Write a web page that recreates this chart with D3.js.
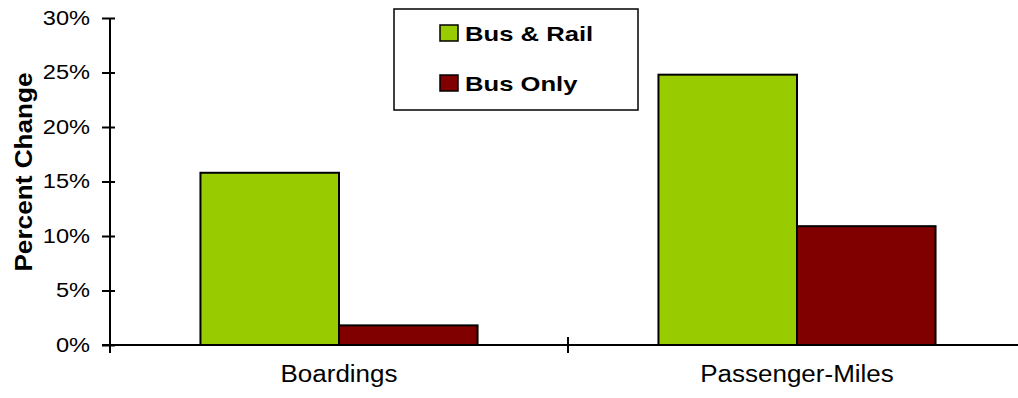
<!DOCTYPE html>
<html>
<head>
<meta charset="utf-8">
<script src="https://cdn.jsdelivr.net/npm/d3@7"></script>
<style>
  body { margin: 0; background: #fff; }
  svg { display: block; font-family: "Liberation Sans", Arial, sans-serif; }
</style>
</head>
<body>
<div class="chart"></div>
<script>
// Chart data
const categories = ["Boardings", "Passenger-Miles"];
const seriesNames = ["Bus & Rail", "Bus Only"];
const busRail = [15.8, 24.8];
const busOnly = [1.8, 10.9];
const yTicks = [0, 5, 10, 15, 20, 25, 30];
const colors = ["#99CC00", "#800000"];

const width = 1018, height = 398;

// The original text is drawn a bit wider than the font, stretch it to match
function stretch(sel, factor) {
  sel.each(function () {
    const w = this.getComputedTextLength();
    d3.select(this)
      .attr("textLength", w * factor)
      .attr("lengthAdjust", "spacingAndGlyphs");
  });
}

const svg = d3.select(".chart")
  .append("svg")
  .attr("width", width)
  .attr("height", height);

// Scales
const x0 = d3.scaleBand()
  .domain(categories)
  .range([110, 1026])
  .paddingInner(0.395)
  .paddingOuter(0.1975);

const x1 = d3.scaleBand()
  .domain(seriesNames)
  .range([0, x0.bandwidth()]);

const y = d3.scaleLinear()
  .domain([0, 30])
  .range([345, 18]);

const rows = categories.map((c, i) => ({ cat: c, values: [busRail[i], busOnly[i]] }));

// Bars
const groups = svg.append("g")
  .selectAll("g")
  .data(rows)
  .join("g")
  .attr("transform", d => `translate(${x0(d.cat)},0)`);

groups.selectAll("rect")
  .data(d => d.values.map((v, i) => ({ name: seriesNames[i], v, i })))
  .join("rect")
  .attr("x", d => x1(d.name))
  .attr("y", d => y(d.v))
  .attr("width", x1.bandwidth())
  .attr("height", d => y(0) - y(d.v))
  .attr("fill", d => colors[d.i])
  .attr("stroke", "#000")
  .attr("stroke-width", 2);

// Y axis
const yAxis = svg.append("g")
  .attr("transform", "translate(110,0)")
  .call(d3.axisLeft(y)
    .tickValues(yTicks)
    .tickSize(8)
    .tickSizeOuter(0)
    .tickPadding(12)
    .tickFormat(d => d + "%"));

yAxis.select(".domain").remove();
yAxis.append("line")
  .attr("y1", y(30)).attr("y2", y(0) + 8)
  .attr("stroke", "#000").attr("stroke-width", 2);
yAxis.selectAll(".tick line")
  .attr("x1", 5)
  .attr("stroke-width", 2);
yAxis.selectAll(".tick text")
  .attr("fill", "#000")
  .attr("font-size", 20)
  .call(stretch, 1.18);

// X axis
const xAxis = svg.append("g")
  .attr("transform", `translate(0,${y(0)})`)
  .call(d3.axisBottom(x0).tickSize(0).tickPadding(28));

xAxis.select(".domain").remove();
xAxis.append("line")
  .attr("x1", 102).attr("x2", 1026)
  .attr("stroke", "#000").attr("stroke-width", 2);

const bounds = categories.map(c => x0(c) + x0.bandwidth() / 2 + x0.step() / 2);
xAxis.selectAll(".bound")
  .data(bounds)
  .join("line")
  .attr("class", "bound")
  .attr("x1", d => d).attr("x2", d => d)
  .attr("y1", -8).attr("y2", 8)
  .attr("stroke", "#000").attr("stroke-width", 2);

xAxis.selectAll(".tick text")
  .attr("fill", "#000")
  .attr("font-size", 23)
  .attr("dy", "0.4em")
  .call(stretch, 1.13);

// Y axis title
svg.append("text")
  .attr("transform", `translate(32,172) rotate(-90)`)
  .attr("text-anchor", "middle")
  .attr("font-size", 24)
  .attr("font-weight", "bold")
  .text("Percent Change")
  .call(stretch, 1.09);

// Legend
const legend = svg.append("g");
legend.append("rect")
  .attr("x", 394).attr("y", 9)
  .attr("width", 244).attr("height", 101)
  .attr("fill", "#fff")
  .attr("stroke", "#000")
  .attr("stroke-width", 1.5);

const items = legend.selectAll(".item")
  .data(seriesNames)
  .join("g")
  .attr("class", "item")
  .attr("transform", (d, i) => `translate(440,${25 + i * 50})`);

items.append("rect")
  .attr("width", 18).attr("height", 16)
  .attr("fill", (d, i) => colors[i])
  .attr("stroke", "#000")
  .attr("stroke-width", 1.5);

items.append("text")
  .attr("x", 25)
  .attr("y", 15.5)
  .attr("font-size", 21)
  .attr("font-weight", "bold")
  .text(d => d)
  .call(stretch, 1.22);
</script>
</body>
</html>
